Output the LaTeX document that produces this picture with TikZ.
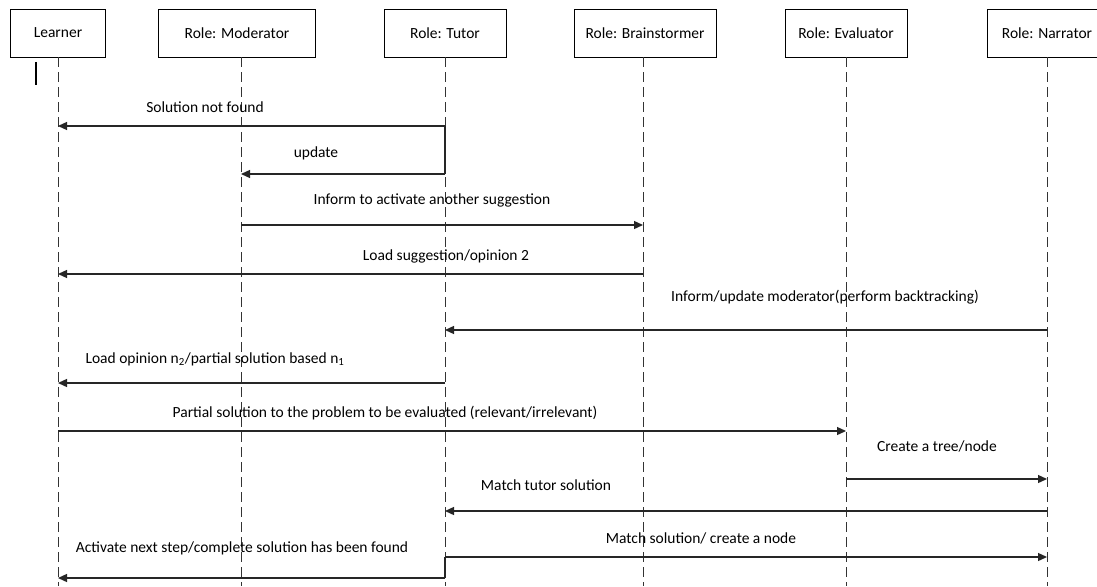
\documentclass[tikz,border=0pt]{standalone}
\usepackage{fontspec}
\setmainfont{Carlito}
\usetikzlibrary{arrows.meta, calc}

\tikzset{
  role/.style={draw, thick, minimum height=48pt, inner sep=0, font=\fontsize{15.5}{18}\selectfont},
  life/.style={draw=black!80, thick, dash pattern=on 10pt off 5pt},
  msg/.style={draw=black!85, line width=1.3pt, -{Triangle[length=9pt, width=8pt]}},
  lbl/.style={font=\fontsize{15.5}{18}\selectfont, inner sep=0}
}

\begin{document}
\begin{tikzpicture}[x=1pt, y=-1pt]
  \useasboundingbox[fill=white] (0,0) rectangle (1097,586);

  % roles
  \node[role, minimum width=95pt] (learner) at (58, 33) {Learner};
  \node[role, minimum width=157pt] (moder) at (237, 33) {Role: Moderator};
  \node[role, minimum width=122pt] (tutor) at (445, 33) {Role: Tutor};
  \node[role, minimum width=142pt] (brain) at (645, 33) {Role: Brainstormer};
  \node[role, minimum width=122pt] (evalr) at (846, 33) {Role: Evaluator};
  \node[role, minimum width=120pt] (narr) at (1047, 33) {Role: Narrator};

  % lifelines
  \draw[life] (learner.south) -- (58, 586);
  \draw[life] (moder.south -| 241,0) -- (241, 586);
  \draw[life] (tutor.south) -- (445, 586);
  \draw[life] (brain.south -| 643,0) -- (643, 586);
  \draw[life] (evalr.south) -- (846, 586);
  \draw[life] (narr.south) -- (1047, 586);
  \draw[line width=1.6pt] (36, 62) -- (36, 85);

  % messages
  \node[lbl] (t1) at (205, 107) {Solution not found};
  \draw[line width=1.3pt, draw=black!85] (445, 126) -- (445, 174);
  \draw[msg] (tutor |- 0,126) -- (learner |- 0,126);

  \node[lbl] (t2) at (316, 153) {update};
  \draw[msg] (tutor |- 0,174) -- (241, 174);

  \node[lbl] (t3) at (432, 200) {Inform to activate another suggestion};
  \draw[msg] (241, 225) -- (643, 225);

  \node[lbl] (t4) at (446, 256) {Load suggestion/opinion 2};
  \draw[msg] (643, 274) -- (learner |- 0,274);

  \node[lbl] (t5) at (825, 297) {Inform/update moderator(perform backtracking)};
  \draw[msg] (narr |- 0,330) -- (tutor |- 0,330);

  \node[lbl] (t6) at (215, 359) {Load opinion n\textsubscript{2}/partial solution based n\textsubscript{1}};
  \draw[msg] (tutor |- 0,383) -- (learner |- 0,383);

  \node[lbl] (t7) at (385, 413) {Partial solution to the problem to be evaluated (relevant/irrelevant)};
  \draw[msg] (learner |- 0,431) -- (evalr |- 0,431);

  \node[lbl] (t8) at (937, 446) {Create a tree/node};
  \draw[msg] (evalr |- 0,479) -- (narr |- 0,479);

  \node[lbl] (t9) at (546, 485) {Match tutor solution};
  \draw[msg] (narr |- 0,511) -- (tutor |- 0,511);

  \node[lbl] (t10) at (701, 538) {Match solution/ create a node};
  \draw[msg] (tutor |- 0,557) -- (narr |- 0,557);

  \node[lbl] (t11) at (242, 548) {Activate next step/complete solution has been found};
  \draw[line width=1.3pt, draw=black!85] (445, 557) -- (445, 578);
  \draw[msg] (tutor |- 0,578) -- (learner |- 0,578);
\end{tikzpicture}
\end{document}
